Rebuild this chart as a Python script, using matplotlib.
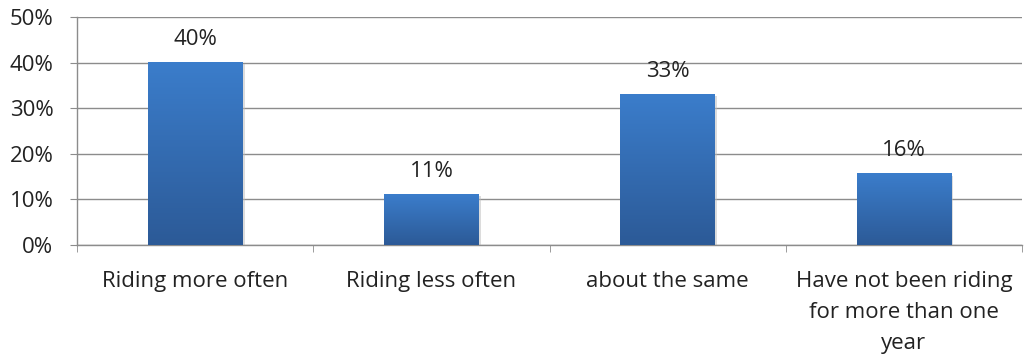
import numpy as np
import matplotlib
matplotlib.use("Agg")
import matplotlib.pyplot as plt
from matplotlib.colors import LinearSegmentedColormap

categories = ["Riding more often", "Riding less often", "about the same",
              "Have not been riding\nfor more than one\nyear"]
values = [40.0, 11.1, 33.0, 15.6]
yticks = [0, 10, 20, 30, 40, 50]

plt.rcParams['font.family'] = ['Open Sans', 'DejaVu Sans']
FS = 16

fig = plt.figure(figsize=(10.24, 3.64), dpi=100)
ax = fig.add_axes([77/1024, 1 - 245/364, (1022-77)/1024, (245-17)/364])

x = np.arange(len(categories))
bars = ax.bar(x, values, width=0.40, color='none', zorder=3)

cmap = LinearSegmentedColormap.from_list("g", ["#2c5a97", "#3b7dcb"])
grad = np.linspace(0, 1, 256).reshape(-1, 1)
for b in bars:
    x0, y0 = b.get_x(), b.get_y()
    w, h = b.get_width(), b.get_height()
    ax.add_patch(plt.Rectangle((x0 + 0.01, y0 - 0.4), w, h, color='#bbbbbb',
                               alpha=0.5, zorder=2.5, lw=0))
    ax.imshow(grad, extent=[x0, x0 + w, y0, y0 + h], origin='lower', cmap=cmap,
              aspect='auto', zorder=3)
    ax.annotate(f"{b.get_height():.0f}%", (x0 + w/2, y0 + h), xytext=(0, 9),
                textcoords='offset points', ha='center', va='bottom', fontsize=FS,
                color='#222222')

ax.set_xlim(-0.5, len(categories) - 0.5)
ax.set_ylim(0, 50)
ax.set_yticks(yticks)
ax.set_yticklabels([f"{v}%" for v in yticks], fontsize=FS, color='#222222')
ax.yaxis.grid(True, color='#8c8c8c', lw=1.0, zorder=1)
ax.set_axisbelow(True)

ax.set_xticks(x)
ax.set_xticklabels(categories, fontsize=FS, color='#222222', linespacing=1.62)
ax.tick_params(axis='x', which='major', length=0, pad=19)
ax.set_xticks(np.arange(-0.5, len(categories)), minor=True)
ax.tick_params(axis='x', which='minor', length=5, color='#8c8c8c', direction='out')
ax.tick_params(axis='y', length=5, color='#8c8c8c', direction='out', pad=12)

for s in ['top', 'right']:
    ax.spines[s].set_visible(False)
for s in ['left', 'bottom']:
    ax.spines[s].set_color('#8c8c8c')
    ax.spines[s].set_linewidth(1.0)

fig.savefig("out.png", dpi=100, facecolor='white')
